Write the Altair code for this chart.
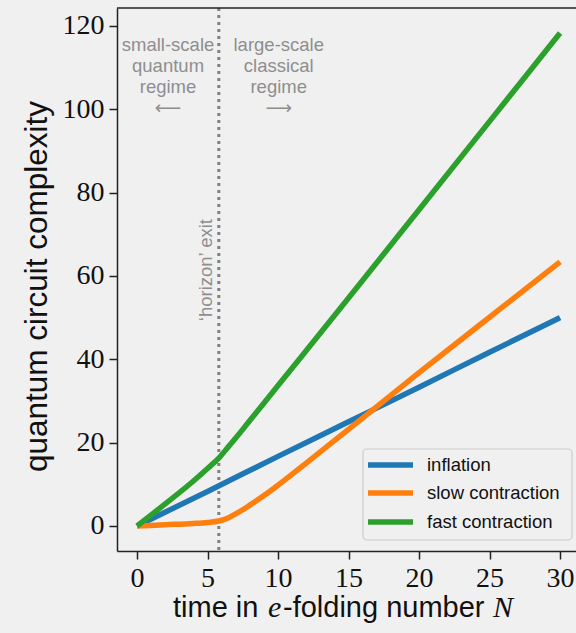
import altair as alt
import pandas as pd

# e-folding number N at which each curve is sampled
n_inflation = [0, 5, 10, 15, 20, 25, 30]
c_inflation = [0.0, 8.3, 16.7, 25.0, 33.3, 41.7, 50.0]

n_slow = [0, 2, 4, 5, 5.8, 6.5, 7, 7.5, 8, 9, 10, 12, 15, 20, 25, 30]
c_slow = [0.0, 0.3, 0.6, 0.85, 1.2, 2.0, 2.9, 3.9, 5.0, 7.3, 9.8, 15.1, 23.2, 36.8, 50.1, 63.4]

n_fast = [0, 2, 4, 5, 5.8, 6.5, 7, 8, 10, 15, 20, 25, 30]
c_fast = [0.0, 5.3, 10.8, 13.8, 16.3, 19.1, 21.1, 25.3, 33.7, 54.7, 75.9, 97.1, 118.3]

series_names = ["inflation", "slow contraction", "fast contraction"]
series_colors = ["#1f77b4", "#ff7f0e", "#2ca02c"]

horizon_exit = 5.8

x_ticks = [0, 5, 10, 15, 20, 25, 30]
y_ticks = [0, 20, 40, 60, 80, 100, 120]

W, H = 459, 543
SANS = "Liberation Sans, Arial, DejaVu Sans"
SERIF = "Liberation Serif, Times New Roman, DejaVu Serif"
GRAY = "#8e8e8e"
BG = "#f0f0f0"

rows = []
for name, ns, cs in zip(series_names, [n_inflation, n_slow, n_fast], [c_inflation, c_slow, c_fast]):
    for n, c in zip(ns, cs):
        rows.append({"N": n, "C": c, "series": name})
curves = pd.DataFrame(rows)

xscale = alt.Scale(domain=[-1.42, 31.13], nice=False, zero=False)
yscale = alt.Scale(domain=[-6.0, 124.3], nice=False, zero=False)
cscale = alt.Scale(domain=series_names, range=series_colors)

x_axis = alt.Axis(
    values=x_ticks, title=None, grid=False, tickSize=8, tickColor="#222",
    tickWidth=1.5, domainColor="#222", domainWidth=1.5, labelFont=SERIF,
    labelFontSize=28, labelColor="#111", labelPadding=5, labelFlush=False,
)
y_axis = alt.Axis(
    values=y_ticks, title="quantum circuit complexity", grid=False, tickSize=8,
    tickColor="#222", tickWidth=1.5, domainColor="#222", domainWidth=1.5,
    labelFont=SERIF, labelFontSize=28, labelColor="#111", labelPadding=5,
    titleFont=SANS, titleFontSize=31.5, titleFontWeight="normal", titleColor="#111",
    titleAngle=270, titleAlign="center", titleBaseline="middle",
    titleX=-80, titleY=278,
)

lines = alt.Chart(curves).mark_line(
    strokeWidth=5.5, interpolate="monotone", strokeCap="butt"
).encode(
    x=alt.X("N:Q", scale=xscale, axis=x_axis),
    y=alt.Y("C:Q", scale=yscale, axis=y_axis),
    color=alt.Color("series:N", scale=cscale, legend=None),
    order=alt.Order("N:Q"),
)

# dotted vertical marker for horizon exit
vline = alt.Chart(pd.DataFrame({"N": [horizon_exit]})).mark_rule(
    color="#808080", strokeWidth=3, strokeDash=[3, 4]
).encode(x=alt.X("N:Q", scale=xscale))

# regime annotations
notes = pd.DataFrame({
    "N": [2.2, 2.2, 2.2, 2.2, 10.05, 10.05, 10.05, 10.05],
    "C": [115.4, 110.4, 105.4, 100.2, 115.4, 110.4, 105.4, 100.2],
    "label": ["small-scale", "quantum", "regime", "\u27f5",
              "large-scale", "classical", "regime", "\u27f6"],
})
note_text = alt.Chart(notes).mark_text(
    font=SANS, fontSize=18.5, color=GRAY, align="center", baseline="middle"
).encode(x=alt.X("N:Q", scale=xscale), y=alt.Y("C:Q", scale=yscale), text="label:N")

horizon_text = alt.Chart(pd.DataFrame({"N": [4.9], "C": [61.4], "label": ["\u2018horizon\u2019 exit"]})).mark_text(
    font=SANS, fontSize=18.5, color=GRAY, align="center", baseline="middle", angle=270
).encode(x=alt.X("N:Q", scale=xscale), y=alt.Y("C:Q", scale=yscale), text="label:N")

# top spine of the frame
top_spine = alt.Chart(pd.DataFrame({"k": [0]})).mark_rule(color="#222", strokeWidth=1.5).encode(
    x=alt.value(0), x2=alt.value(W), y=alt.value(0)
)

# legend box, swatches and labels
legend_df = pd.DataFrame({"series": series_names, "py": [457, 485, 514]})
legend_box = alt.Chart(pd.DataFrame({"k": [0]})).mark_rect(
    fill=BG, fillOpacity=0.85, stroke="#cccccc", strokeWidth=1.2, cornerRadius=4
).encode(x=alt.value(246), x2=alt.value(455), y=alt.value(441), y2=alt.value(532))
legend_lines = alt.Chart(legend_df).mark_rule(strokeWidth=5.5).encode(
    x=alt.value(251), x2=alt.value(296), y=alt.Y("py:Q", scale=None),
    color=alt.Color("series:N", scale=cscale, legend=None),
)
legend_labels = alt.Chart(legend_df).mark_text(
    font=SANS, fontSize=18.5, color="#111", align="left", baseline="middle"
).encode(x=alt.value(310), y=alt.Y("py:Q", scale=None), text="series:N")

# x-axis title with italic math symbols
xt_sans = alt.Chart(pd.DataFrame({"t": ["time in ", "-folding number "], "px": [56, 166]})).mark_text(
    font=SANS, fontSize=29, color="#111", align="left", baseline="alphabetic"
).encode(x=alt.X("px:Q", scale=None), y=alt.value(609), text="t:N")
xt_math = alt.Chart(pd.DataFrame({"t": ["e", "N"], "px": [151, 376]})).mark_text(
    font=SERIF, fontSize=30, fontStyle="italic", color="#111", align="left", baseline="alphabetic"
).encode(x=alt.X("px:Q", scale=None), y=alt.value(609), text="t:N")

chart = alt.layer(
    vline, horizon_text, note_text, top_spine, lines,
    legend_box, legend_lines, legend_labels, xt_sans, xt_math,
).properties(
    width=W, height=H,
    autosize=alt.AutoSizeParams(type="none"),
    padding={"left": 117, "top": 8, "right": 0, "bottom": 82},
    background=BG,
).configure_view(stroke=None)

chart.save("out.html", embed_options={"renderer": "svg", "actions": False})
